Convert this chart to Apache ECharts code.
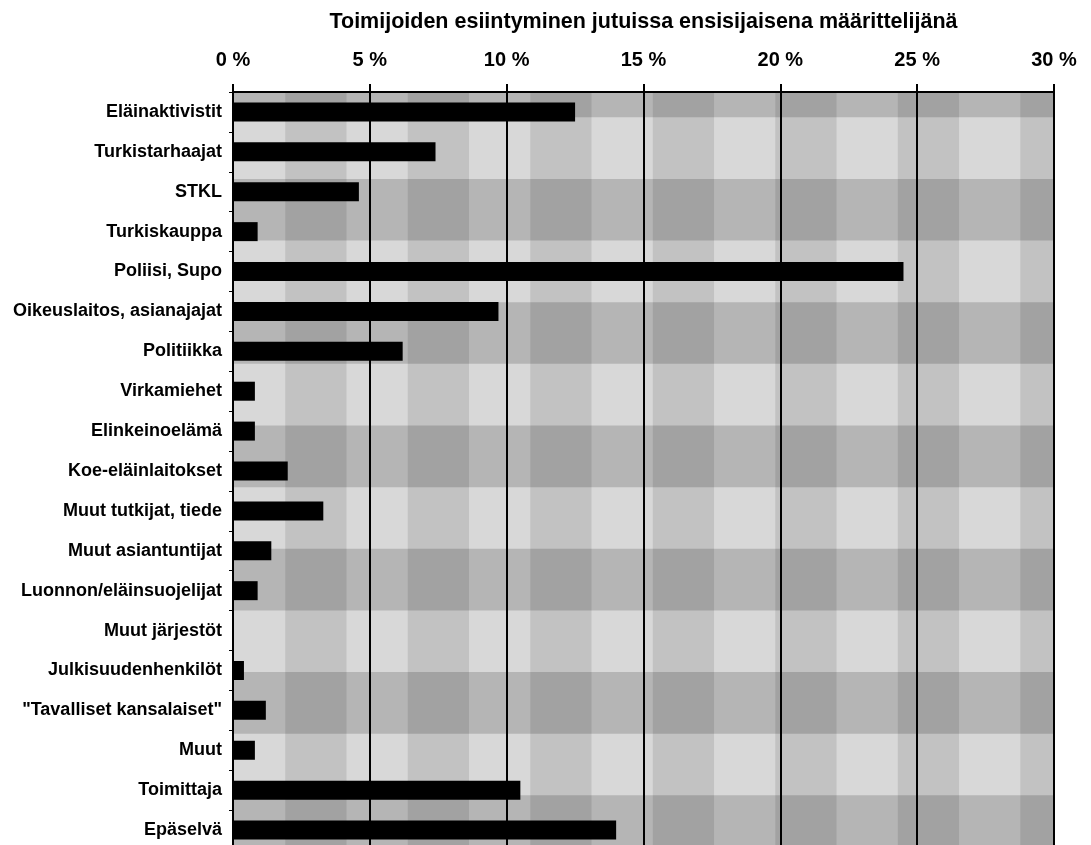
<!DOCTYPE html>
<html>
<head>
<meta charset="utf-8">
<script src="https://cdn.jsdelivr.net/npm/echarts@6/dist/echarts.min.js"></script>
<style>
html,body{margin:0;padding:0;background:#fff;}
#chart{width:1091px;height:845px;}
</style>
</head>
<body>
<div id="chart"></div>
<script>
var chartTitle = 'Toimijoiden esiintyminen jutuissa ensisijaisena määrittelijänä';
var categories = [
  'Eläinaktivistit', 'Turkistarhaajat', 'STKL', 'Turkiskauppa', 'Poliisi, Supo',
  'Oikeuslaitos, asianajajat', 'Politiikka', 'Virkamiehet', 'Elinkeinoelämä',
  'Koe-eläinlaitokset', 'Muut tutkijat, tiede', 'Muut asiantuntijat',
  'Luonnon/eläinsuojelijat', 'Muut järjestöt', 'Julkisuudenhenkilöt',
  '"Tavalliset kansalaiset"', 'Muut', 'Toimittaja', 'Epäselvä'
];
var shares = [12.5, 7.4, 4.6, 0.9, 24.5, 9.7, 6.2, 0.8, 0.8, 2.0, 3.3, 1.4, 0.9, 0, 0.4, 1.2, 0.8, 10.5, 14.0];
var xTicks = [0, 5, 10, 15, 20, 25, 30];

var FONT = '"Liberation Sans", Arial, Helvetica, sans-serif';
var chart = echarts.init(document.getElementById('chart'), null, {renderer: 'canvas'});

var option = {
  backgroundColor: '#ffffff',
  animation: false,
  grid: [
    {left: 233, right: 37, top: 92, bottom: -5, outerBoundsMode: 'none'},
    {left: 224, right: 37, top: 92, bottom: -5, outerBoundsMode: 'none'},
    {left: 233, right: 37, top: 92, bottom: -12, outerBoundsMode: 'none'}
  ],
  xAxis: [
    {
      gridIndex: 0, type: 'value', position: 'top',
      min: xTicks[0], max: xTicks[xTicks.length - 1], interval: 5,
      z: 3,
      name: chartTitle, nameLocation: 'middle', nameGap: 59, nameMoveOverlap: false,
      nameTextStyle: {fontFamily: FONT, fontWeight: 'bold', fontSize: 21.5, color: '#000'},
      axisLine: {show: true, lineStyle: {color: '#000', width: 2}},
      axisTick: {show: true, inside: false, length: 8, lineStyle: {color: '#000', width: 2}},
      axisLabel: {
        margin: 22, fontFamily: FONT, fontWeight: 'bold', fontSize: 20, color: '#000',
        formatter: function (v) { return v + ' %'; }
      },
      splitLine: {show: true, lineStyle: {color: '#000', width: 2}},
      splitArea: {show: false}
    },
    {
      gridIndex: 1, type: 'value', min: 0, max: 13.55, interval: 1, z: 1,
      axisLine: {show: false}, axisTick: {show: false}, axisLabel: {show: false},
      splitLine: {show: false},
      splitArea: {show: true, areaStyle: {color: ['rgba(0,0,0,0)', 'rgba(0,0,0,0.10)']}}
    },
    {
      gridIndex: 2, type: 'value', min: 0, max: 1, interval: 1, z: 0,
      axisLine: {show: false}, axisTick: {show: false}, axisLabel: {show: false},
      splitLine: {show: false},
      splitArea: {show: true, areaStyle: {color: ['#d8d8d8', '#d8d8d8']}}
    }
  ],
  yAxis: [
    {
      gridIndex: 0, type: 'category', data: categories, inverse: true, z: 3,
      axisLine: {show: true, lineStyle: {color: '#000', width: 2}},
      axisTick: {show: true, length: 4, lineStyle: {color: '#000', width: 1}},
      axisLabel: {margin: 11, fontFamily: FONT, fontWeight: 'bold', fontSize: 18, color: '#000'},
      splitLine: {show: false},
      splitArea: {show: false}
    },
    {
      gridIndex: 1, type: 'value', min: 0, max: 1, show: false
    },
    {
      gridIndex: 2, type: 'value', min: 0, max: 12.41, interval: 1, z: 1,
      axisLine: {show: false}, axisTick: {show: false}, axisLabel: {show: false},
      splitLine: {show: false},
      splitArea: {show: true, areaStyle: {color: ['rgba(0,0,0,0.16)', 'rgba(0,0,0,0)']}}
    }
  ],
  series: [
    {
      type: 'bar', xAxisIndex: 0, yAxisIndex: 0, data: shares,
      barWidth: 19, z: 5,
      itemStyle: {color: '#000'}
    }
  ]
};
chart.setOption(option);
</script>
</body>
</html>
